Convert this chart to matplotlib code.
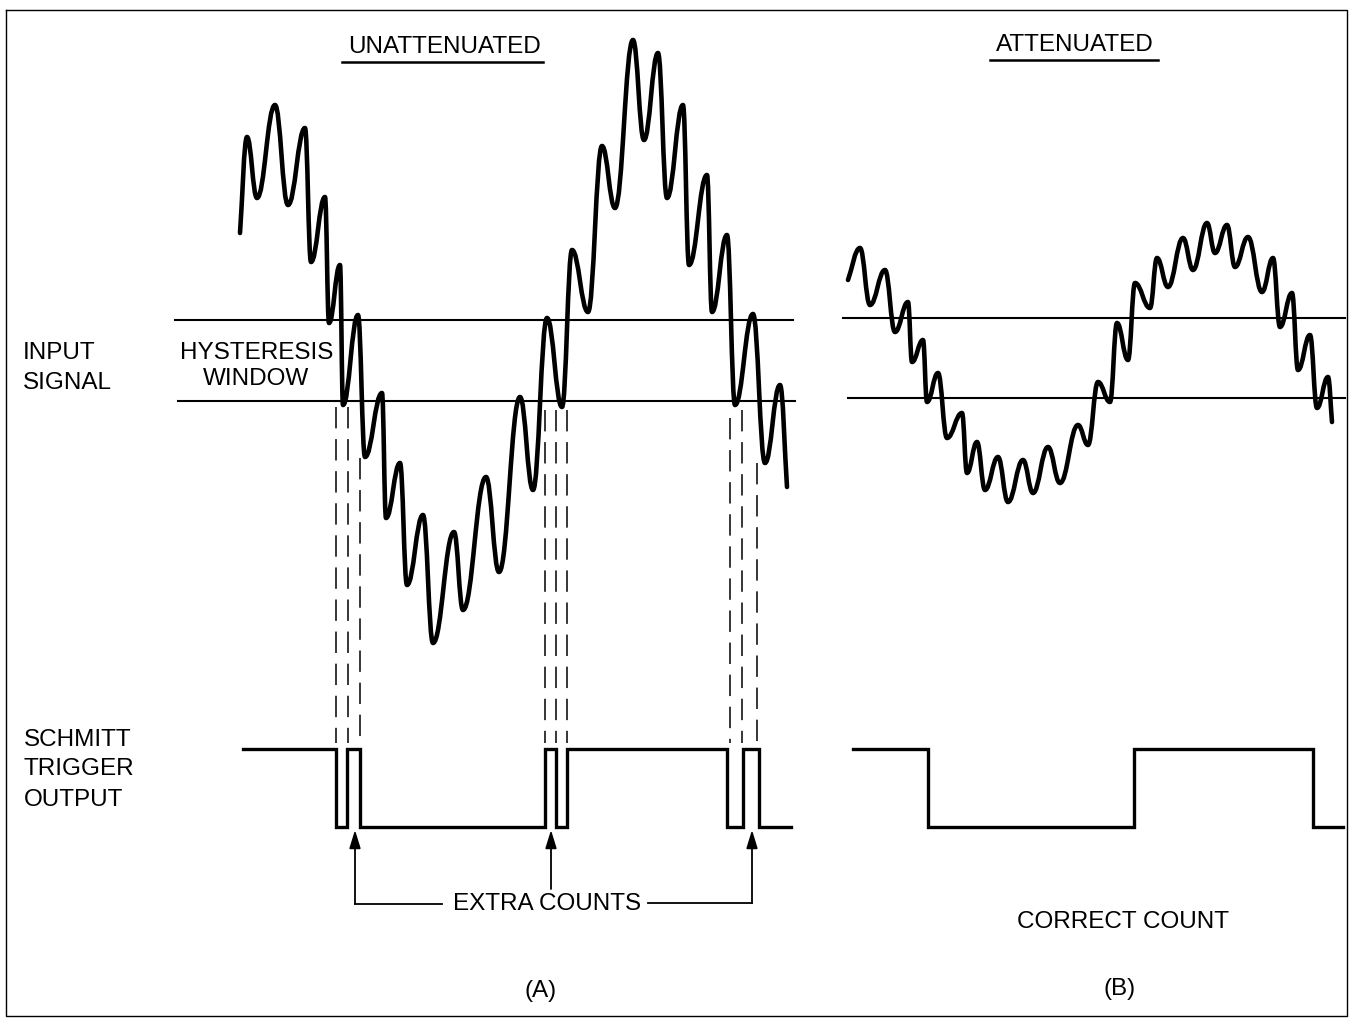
import numpy as np
import matplotlib
matplotlib.use("Agg")
import matplotlib.pyplot as plt
from matplotlib.path import Path
from matplotlib.patches import PathPatch

# ---------------- data (diagram coordinates, y grows downward) ----------------
# extrema of the unattenuated input signal (panel A)
left_x = [240, 247, 257, 275, 288, 305, 311, 325, 329, 340,
          343, 358, 365, 382, 386, 400, 407, 423, 433, 454,
          463, 486, 499, 520, 533, 547, 562, 572, 588, 602,
          615, 633, 644, 658, 667, 683, 689, 707, 712, 727,
          735, 753, 765, 780, 787]
left_y = [233, 137, 198, 105, 205, 128, 262, 197, 323, 265,
          405, 315, 457, 393, 518, 463, 585, 515, 643, 532,
          610, 477, 572, 397, 490, 318, 407, 250, 312, 146,
          208, 40, 140, 53, 198, 105, 265, 175, 312, 235,
          405, 314, 463, 385, 487]

# extrema of the attenuated input signal (panel B)
right_x = [848, 860, 870, 885, 895, 908, 912, 923, 927, 938,
           947, 962, 967, 977, 985, 998, 1008, 1023, 1033, 1048,
           1060, 1078, 1088, 1098, 1110, 1117, 1128, 1135, 1150, 1157,
           1168, 1183, 1193, 1207, 1215, 1227, 1235, 1248, 1262, 1273,
           1280, 1292, 1298, 1310, 1317, 1328, 1332]
right_y = [280, 248, 305, 270, 332, 302, 362, 340, 402, 373,
           438, 413, 473, 442, 490, 457, 502, 460, 493, 447,
           483, 425, 445, 382, 402, 323, 360, 283, 308, 258,
           287, 238, 270, 223, 253, 225, 267, 237, 292, 258,
           327, 293, 370, 335, 408, 377, 422]

# hysteresis window thresholds: (x_start, x_end, y)
left_upper = (175, 793, 320)
left_lower = (178, 795, 401)
right_upper = (843, 1345, 318)
right_lower = (848, 1345, 398)

# Schmitt trigger outputs: edge positions, starting level high
out_high, out_low = 749, 827
left_edges = [243, 336, 347, 360, 545, 556, 567, 727, 743, 759, 791]
right_edges = [853, 928, 1134, 1313, 1343]

# dashed projection lines: x, start y
dash_x = [336, 348, 360, 545, 556, 567, 730, 742, 757]
dash_y0 = [407, 407, 458, 410, 410, 410, 418, 410, 463]
dash_y1 = 743

# extra count arrows
arrow_x = [355, 551, 752]
bracket_y = 904

FONT = "Liberation Sans"
FS = 17.5

fig = plt.figure(figsize=(13.5, 10.19), dpi=100)
ax = fig.add_axes([0, 0, 1, 1])
ax.set_xlim(0, 1350)
ax.set_ylim(1019, 0)
ax.axis("off")


def wave(xs, ys, k=0.42):
    verts = [(xs[0], ys[0])]
    codes = [Path.MOVETO]
    n = len(xs)
    for i in range(n - 1):
        x0, y0, x1, y1 = xs[i], ys[i], xs[i + 1], ys[i + 1]
        dx = x1 - x0
        if i == 0:
            c1 = (x0 + (x1 - x0) / 3, y0 + (y1 - y0) / 3)
        else:
            c1 = (x0 + k * dx, y0)
        if i == n - 2:
            c2 = (x1 - (x1 - x0) / 3, y1 - (y1 - y0) / 3)
        else:
            c2 = (x1 - k * dx, y1)
        verts += [c1, c2, (x1, y1)]
        codes += [Path.CURVE4] * 3
    return PathPatch(Path(verts, codes), fill=False, lw=3.3, color="black",
                     capstyle="round", joinstyle="round", zorder=3)


ax.add_patch(wave(left_x, left_y))
ax.add_patch(wave(right_x, right_y))

for xs, xe, y in (left_upper, left_lower, right_upper, right_lower):
    ax.plot([xs, xe], [y, y], color="black", lw=1.5, zorder=2)


def square(edges):
    xs, ys = [edges[0]], [out_high]
    level = out_high
    for e in edges[1:-1]:
        xs += [e, e]
        nxt = out_low if level == out_high else out_high
        ys += [level, nxt]
        level = nxt
    xs.append(edges[-1])
    ys.append(level)
    return xs, ys


for edges in (left_edges, right_edges):
    sx, sy = square(edges)
    ax.plot(sx, sy, color="black", lw=2.4, solid_joinstyle="miter", zorder=3)

for x, y0 in zip(dash_x, dash_y0):
    ax.plot([x, x], [y0, dash_y1], color="black", lw=1.1,
            dashes=(14, 7), zorder=1)

# extra count bracket + arrows
ax.plot([arrow_x[0], 442], [bracket_y, bracket_y], color="black", lw=1.3)
ax.plot([648, arrow_x[2]], [bracket_y - 1, bracket_y - 1], color="black", lw=1.3)
for x, ys in zip(arrow_x, [bracket_y, 889, bracket_y - 1]):
    ax.annotate("", xy=(x, 830), xytext=(x, ys),
                arrowprops=dict(arrowstyle="-|>,head_length=0.55,head_width=0.17",
                                lw=1.3, color="black", shrinkA=0, shrinkB=0,
                                mutation_scale=20))

# texts
def txt(x, y, s, ha="center"):
    ax.text(x, y, s, ha=ha, va="center", fontsize=FS, family=FONT, color="black")

txt(445, 47, "UNATTENUATED")
ax.plot([342, 543], [62, 62], color="black", lw=1.8)
txt(1075, 45, "ATTENUATED")
ax.plot([990, 1158], [60, 60], color="black", lw=1.8)

txt(23, 353, "INPUT", ha="left")
txt(23, 383, "SIGNAL", ha="left")
txt(257, 353, "HYSTERESIS")
txt(256, 379, "WINDOW")
txt(24, 740, "SCHMITT", ha="left")
txt(24, 769, "TRIGGER", ha="left")
txt(24, 800, "OUTPUT", ha="left")
txt(547, 904, "EXTRA COUNTS")
txt(1123, 922, "CORRECT COUNT")
txt(541, 991, "(A)")
txt(1120, 989, "(B)")

# frame
ax.plot([6, 1347, 1347, 6, 6], [10, 10, 1016, 1016, 10], color="black", lw=1.0)

fig.savefig("out.png", dpi=100)
